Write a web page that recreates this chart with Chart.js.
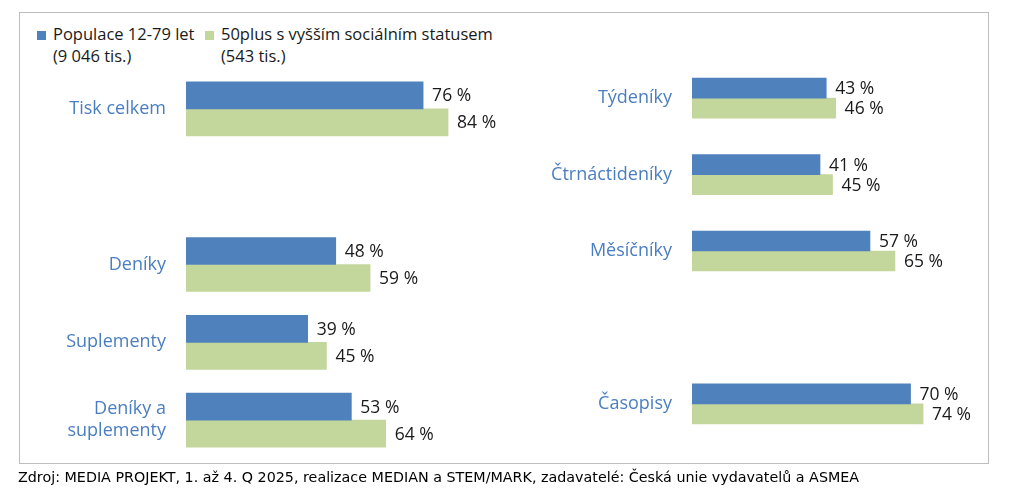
<!DOCTYPE html>
<html>
<head>
  <meta charset="utf-8">
  <title>Čtenost tisku</title>
  <script src="https://cdn.jsdelivr.net/npm/chart.js"></script>
  <style>
    body {
      margin: 0;
      background: #fff;
      font-family: "Open Sans", sans-serif;
    }
    #page {
      position: relative;
      width: 1024px;
      height: 495px;
    }
    #frame {
      position: absolute;
      left: 19px;
      top: 12px;
      width: 968px;
      height: 450px;
      border: 1.5px solid #bdbdbd;
    }
    .legend {
      position: absolute;
      top: 23px;
      font-size: 16.5px;
      line-height: 22px;
      color: #1a1a1a;
    }
    .legend i {
      position: absolute;
      left: -16px;
      top: 8px;
      width: 9px;
      height: 9px;
    }
    #leftWrap { position: absolute; left: 20px; top: 60px; width: 490px; height: 410px; }
    #rightWrap { position: absolute; left: 510px; top: 50px; width: 480px; height: 410px; }
    #source {
      position: absolute;
      left: 18px;
      top: 469px;
      font-family: "DejaVu Sans", sans-serif;
      font-size: 14.3px;
      color: #000;
    }
  </style>
</head>
<body>
<div id="page">
  <div id="frame"></div>
  <div class="legend" style="left:53px"><i style="background:#4F81BD"></i>Populace 12-79 let<br>(9 046 tis.)</div>
  <div class="legend" style="left:221px"><i style="background:#C3D69B"></i>50plus s vyšším sociálním statusem<br>(543 tis.)</div>
  <div id="leftWrap"><canvas id="leftChart"></canvas></div>
  <div id="rightWrap"><canvas id="rightChart"></canvas></div>
  <div id="source">Zdroj: MEDIA PROJEKT, 1. až 4. Q 2025, realizace MEDIAN a STEM/MARK, zadavatelé: Česká unie vydavatelů a ASMEA</div>
</div>

<script>
  // data (empty slots keep the gaps between groups)
  const leftLabels = ['Tisk celkem', '', 'Deníky', 'Suplementy', ['Deníky a', 'suplementy']];
  const leftPopulace = [76, null, 48, 39, 53];
  const left50plus = [84, null, 59, 45, 64];

  const rightLabels = ['Týdeníky', 'Čtrnáctideníky', 'Měsíčníky', '', 'Časopisy'];
  const rightPopulace = [43, 41, 57, null, 70];
  const right50plus = [46, 45, 65, null, 74];

  const seriesNames = ['Populace 12-79 let (9 046 tis.)', '50plus s vyšším sociálním statusem (543 tis.)'];
  const blue = '#4F81BD';
  const green = '#C3D69B';

  const valueLabels = {
    id: 'valueLabels',
    afterDatasetsDraw(chart) {
      const ctx = chart.ctx;
      ctx.save();
      ctx.font = '17.5px "Open Sans", sans-serif';
      ctx.fillStyle = '#1a1a1a';
      ctx.textAlign = 'left';
      ctx.textBaseline = 'middle';
      chart.data.datasets.forEach((ds, i) => {
        chart.getDatasetMeta(i).data.forEach((bar, j) => {
          const v = ds.data[j];
          if (v == null) return;
          ctx.fillText(v + ' %', bar.x + 9, bar.y + 1);
        });
      });
      ctx.restore();
    }
  };

  function makeChart(id, labels, pop, plus, thickness, axisWidth, max, pad) {
    return new Chart(document.getElementById(id), {
      type: 'bar',
      data: {
        labels: labels,
        datasets: [
          { label: seriesNames[0], data: pop, backgroundColor: blue, barThickness: thickness },
          { label: seriesNames[1], data: plus, backgroundColor: green, barThickness: thickness }
        ]
      },
      options: {
        indexAxis: 'y',
        responsive: true,
        maintainAspectRatio: false,
        animation: false,
        layout: { padding: pad },
        plugins: {
          legend: { display: false },
          tooltip: { enabled: false }
        },
        scales: {
          x: { display: false, min: 0, max: max },
          y: {
            grid: { display: false, drawTicks: false },
            border: { display: false },
            ticks: {
              padding: 20,
              color: '#4A7EC0',
              font: { family: '"Open Sans", sans-serif', size: 18 },
              lineHeight: 1.4
            },
            afterFit(scale) {
              scale.width = axisWidth;
              scale.paddingTop = 0;
              scale.paddingBottom = 0;
            }
          }
        }
      },
      plugins: [valueLabels]
    });
  }

  makeChart('leftChart', leftLabels, leftPopulace, left50plus, 27, 166, 100,
    { top: 10, bottom: 11, left: 0, right: 12 });
  makeChart('rightChart', rightLabels, rightPopulace, right50plus, 20, 182, 90,
    { top: 10, bottom: 18, left: 0, right: 17 });
</script>
</body>
</html>
